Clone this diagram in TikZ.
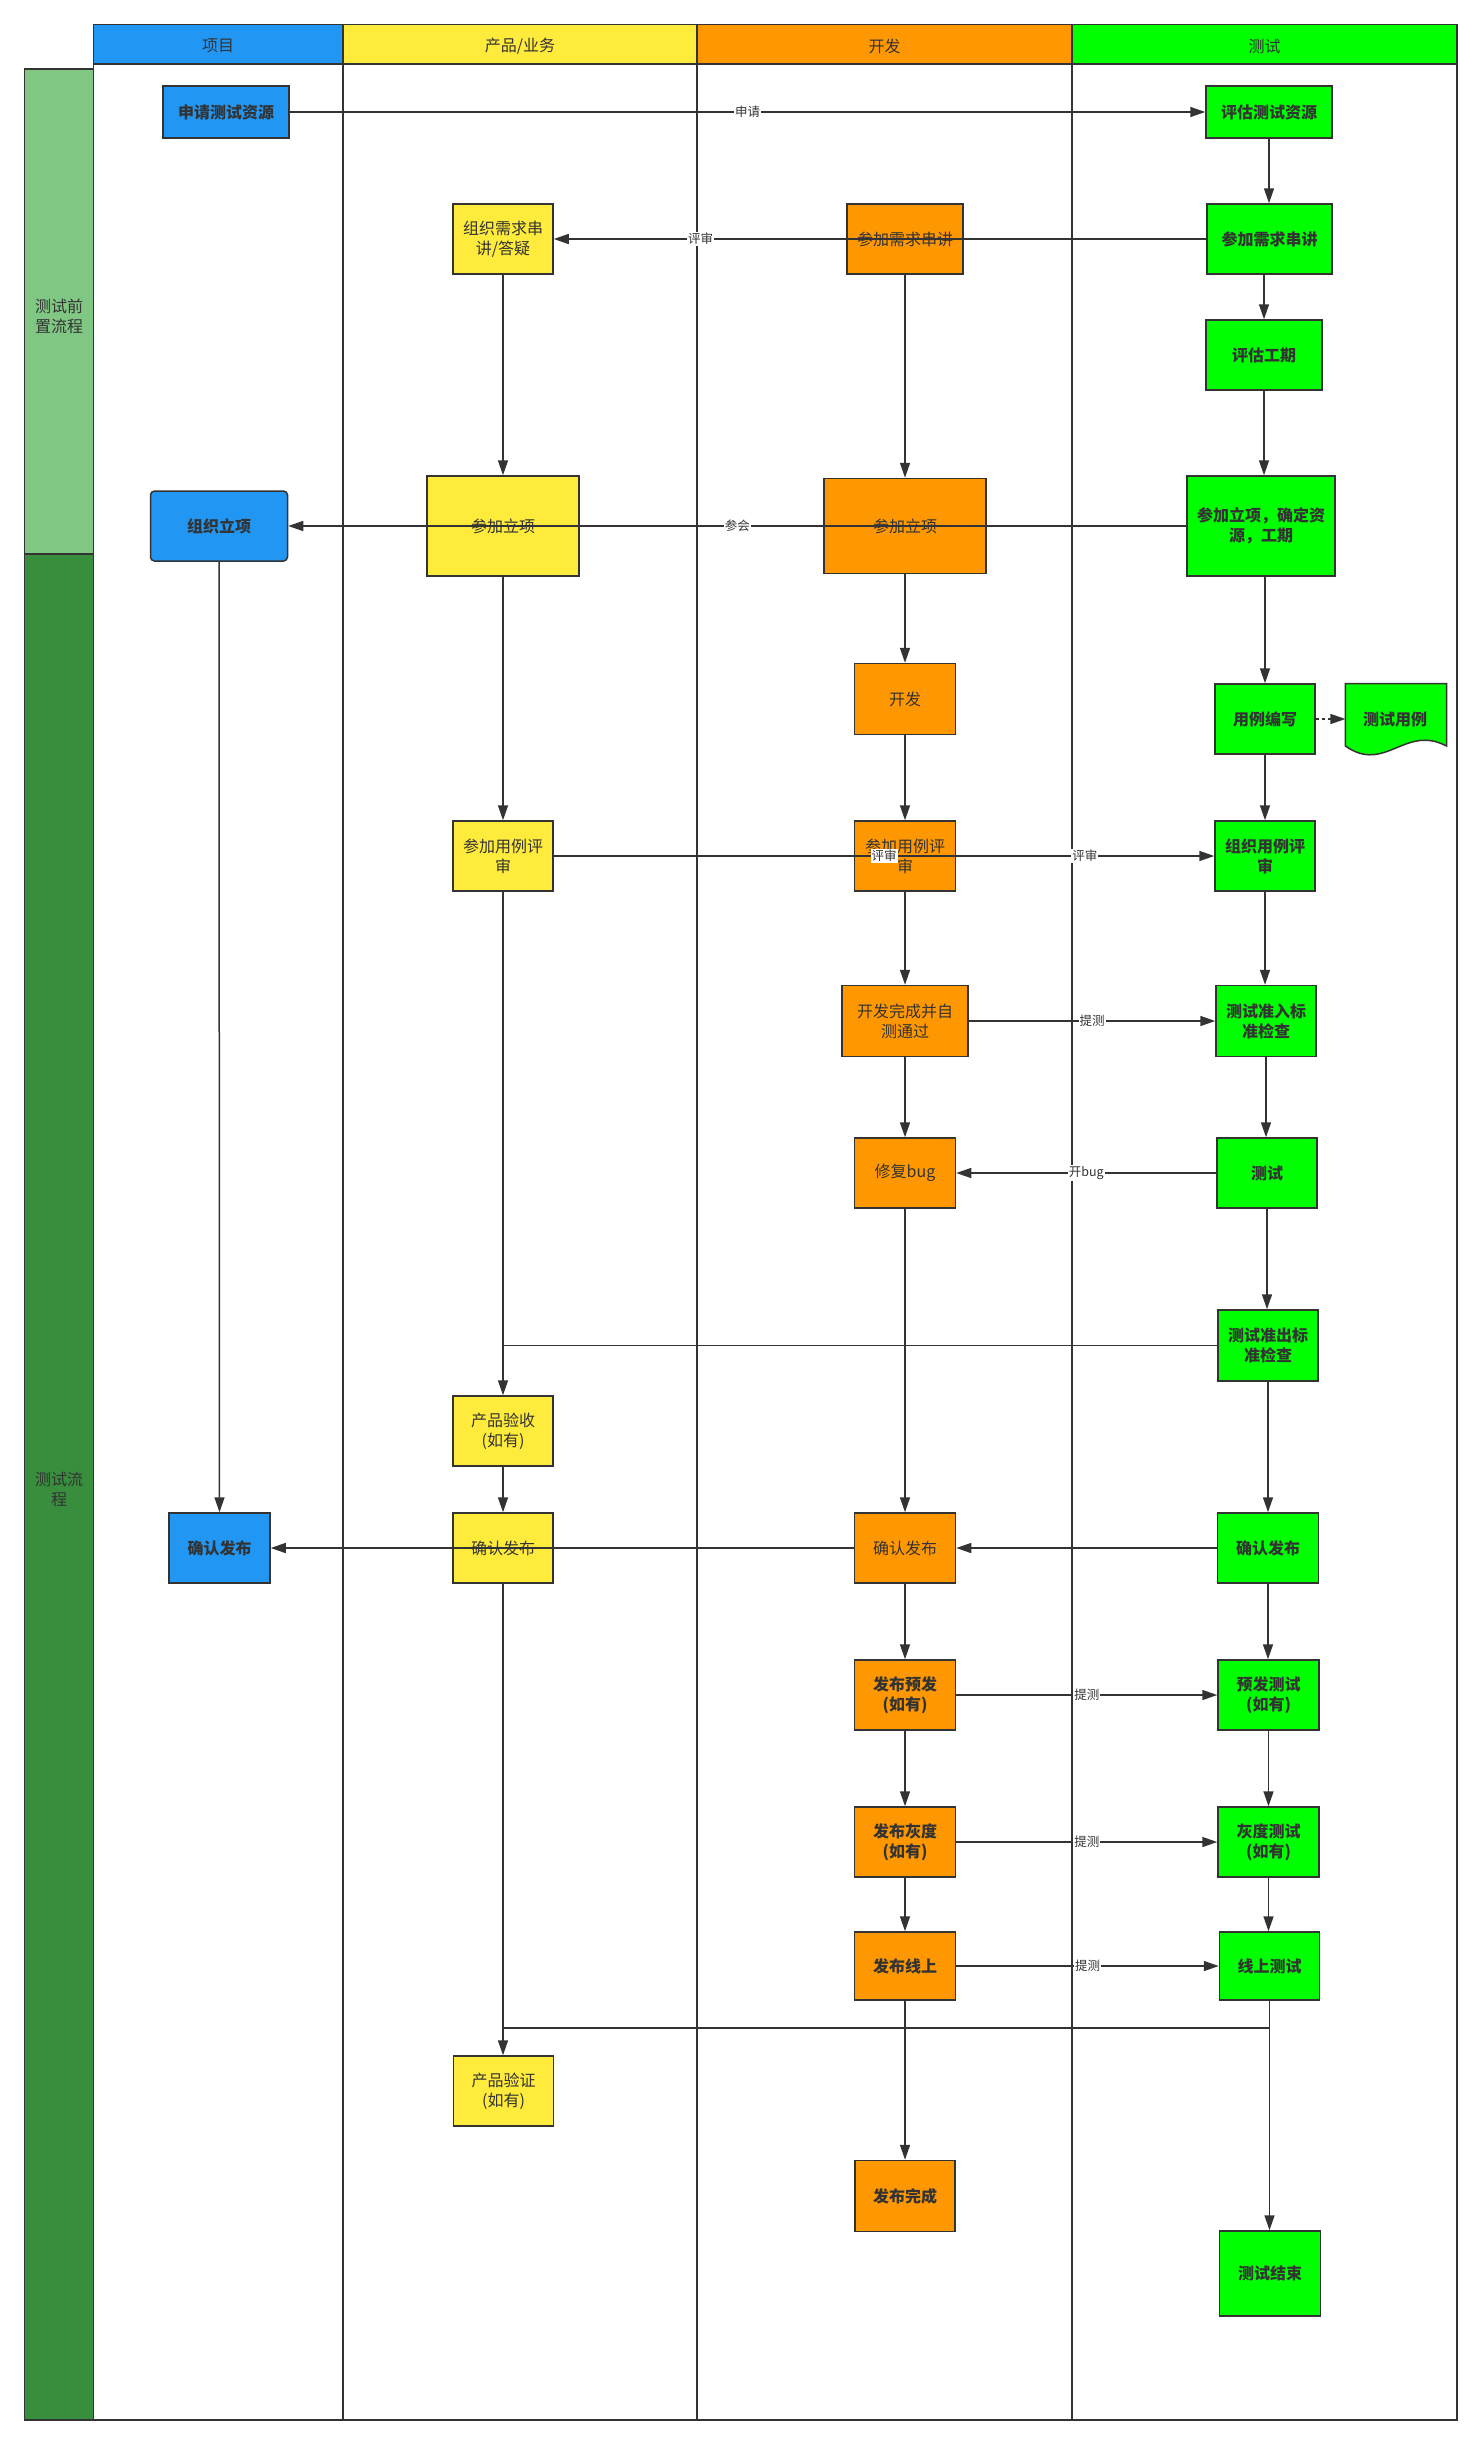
\documentclass[tikz,border=0pt]{standalone}
\usepackage{fontspec}
\setmainfont{Noto Sans CJK SC}
\usetikzlibrary{arrows.meta}
\definecolor{cblue}{HTML}{2196F3}
\definecolor{cyellow}{HTML}{FFEB3B}
\definecolor{corange}{HTML}{FF9800}
\definecolor{cgreen}{HTML}{00FF00}
\definecolor{clgreen}{HTML}{81C784}
\definecolor{cdgreen}{HTML}{388E3C}
\definecolor{linec}{HTML}{333333}
\definecolor{textc}{HTML}{333333}
\begin{document}
\begin{tikzpicture}[x=1pt,y=-1pt,
  lane/.style={draw=linec, line width=1.8pt},
  box/.style={draw=linec, line width=1.5pt, inner sep=0pt, align=center, text=textc,
    minimum width=100pt, minimum height=70pt, font=\fontsize{16}{20}\selectfont},
  bbox/.style={box, font=\fontsize{16}{20}\selectfont\bfseries},
  arr/.style={draw=linec, line width=1.5pt, -{Triangle[length=15pt,width=10pt]}},
  conn/.style={draw=linec, line width=1.5pt},
  lbl/.style={fill=white, inner sep=1pt, text=textc, font=\fontsize{12.5}{14}\selectfont},
  hdr/.style={text=textc, font=\fontsize{16}{20}\selectfont},
  band/.style={text=textc, align=center, font=\fontsize{16}{20}\selectfont}
]
\useasboundingbox (0,0) rectangle (1481,2444);
\fill[white] (0,0) rectangle (1481,2444);

% header
\draw[lane, fill=cblue] (93.4,24.5) rectangle (343,64.3);
\draw[lane, fill=cyellow] (343,24.5) rectangle (697,64.3);
\draw[lane, fill=corange] (697,24.5) rectangle (1072,64.3);
\draw[lane, fill=cgreen] (1072,24.5) rectangle (1457,64.3);
\node[hdr] (h1) at (218,46) {项目};
\node[hdr] (h2) at (520,46) {产品/业务};
\node[hdr] (h3) at (884.5,46) {开发};
\node[hdr] (h4) at (1264.5,46) {测试};

% lanes
\draw[lane] (93.4,64.3) rectangle (1457,2420);
\draw[lane] (343,64.3) -- (343,2420);
\draw[lane] (697,64.3) -- (697,2420);
\draw[lane] (1072,64.3) -- (1072,2420);

% left band
\draw[lane, fill=clgreen] (24.5,69) rectangle (93.4,554);
\draw[lane, fill=cdgreen] (24.5,554) rectangle (93.4,2420);
\node[band] (b1) at (59,316) {测试前\\置流程};
\node[band] (b2) at (59,1489) {测试流\\程};

% nodes
\node[bbox, fill=cblue, minimum width=126pt, minimum height=52pt] (sqzy) at (226,112) {申请测试资源};
\node[bbox, fill=cgreen, minimum width=126pt, minimum height=52pt] (pgzy) at (1269,112) {评估测试资源};
\node[box, fill=cyellow] (zzxq) at (503,239) {组织需求串\\讲/答疑};
\node[box, fill=corange, minimum width=116pt] (cjxqD) at (905,239) {参加需求串讲};
\node[bbox, fill=cgreen, minimum width=125pt] (cjxqT) at (1269.5,239) {参加需求串讲};
\node[bbox, fill=cgreen, minimum width=116pt] (pggq) at (1264,355) {评估工期};
\node[box, fill=cyellow, minimum width=152pt, minimum height=100pt] (cjlxP) at (503,526) {参加立项};
\node[box, fill=corange, minimum width=162pt, minimum height=95pt] (cjlxD) at (905,526) {参加立项};
\node[bbox, fill=cgreen, minimum width=148pt, minimum height=100pt] (cjlxT) at (1261,526) {参加立项，确定资\\源，工期};
\node[bbox, fill=cblue, minimum width=137pt, rounded corners=4pt] (zzlx) at (219,526) {组织立项};
\node[box, fill=corange, minimum width=101pt, minimum height=71pt] (kf) at (905,699) {开发};
\node[bbox, fill=cgreen] (ylbx) at (1265,719) {用例编写};
\draw[draw=linec, line width=1.5pt, fill=cgreen] (1345.4,683.5) -- (1446.5,683.5) -- (1446.5,746)
  .. controls (1405,724) and (1385,774) .. (1345.4,746) -- cycle;
\node[text=textc, font=\fontsize{16}{20}\selectfont\bfseries] (csyl) at (1395,719) {测试用例};
\coordinate (csylw) at (1345.4,719);
\node[box, fill=cyellow] (cjylP) at (503,856) {参加用例评\\审};
\node[box, fill=corange, minimum width=101pt] (cjylD) at (905,856) {参加用例评\\审};
\node[bbox, fill=cgreen] (zzyl) at (1265,856) {组织用例评\\审};
\node[box, fill=corange, minimum width=126pt, minimum height=71pt] (kfwc) at (905,1021) {开发完成并自\\测通过};
\node[bbox, fill=cgreen, minimum height=71pt] (zrjc) at (1266,1021) {测试准入标\\准检查};
\node[box, fill=corange, minimum width=101pt] (xfbug) at (905,1173) {修复bug};
\node[bbox, fill=cgreen] (cs) at (1267,1173) {测试};
\node[bbox, fill=cgreen, minimum height=71pt] (zcjc) at (1268,1345.5) {测试准出标\\准检查};
\node[box, fill=cyellow] (cpys) at (503,1431) {产品验收\\(如有)};
\node[bbox, fill=cblue, minimum width=101pt] (qrB) at (219.5,1548) {确认发布};
\node[box, fill=cyellow] (qrP) at (503,1548) {确认发布};
\node[box, fill=corange, minimum width=101pt] (qrD) at (905,1548) {确认发布};
\node[bbox, fill=cgreen, minimum width=101pt] (qrT) at (1268,1548) {确认发布};
\node[bbox, fill=corange, minimum width=101pt] (fbyf) at (905,1695) {发布预发\\(如有)};
\node[bbox, fill=cgreen, minimum width=101pt] (yfcs) at (1268.5,1695) {预发测试\\(如有)};
\node[bbox, fill=corange, minimum width=101pt] (fbhd) at (905,1842) {发布灰度\\(如有)};
\node[bbox, fill=cgreen, minimum width=101pt] (hdcs) at (1268.5,1842) {灰度测试\\(如有)};
\node[bbox, fill=corange, minimum width=101pt, minimum height=68pt] (fbxs) at (905,1966) {发布线上};
\node[bbox, fill=cgreen, minimum height=68pt] (xscs) at (1269.5,1966) {线上测试};
\node[box, fill=cyellow] (cpyz) at (503.5,2091) {产品验证\\(如有)};
\node[bbox, fill=corange, minimum height=71pt] (fbwc) at (905,2196) {发布完成};
\node[bbox, fill=cgreen, minimum width=101pt, minimum height=85pt] (csjs) at (1270,2273.5) {测试结束};

\coordinate (j0) at (503,1345.5);
\coordinate (j1) at (503.5,2028);
\coordinate (j2) at (1269.5,2028);

% connectors
\draw[arr] (sqzy.east) -- node[lbl, pos=0.5] (l1) {申请} (pgzy.west);
\draw[arr] (pgzy.south) -- (pgzy.south |- cjxqT.north);
\draw[arr] (cjxqT.west) -- node[lbl, pos=0.775] (l2) {评审} (zzxq.east);
\draw[arr] (cjxqT.south -| pggq.north) -- (pggq.north);
\draw[arr] (pggq.south) -- (pggq.south |- cjlxT.north);
\draw[arr] (cjxqD.south) -- (cjlxD.north);
\draw[arr] (zzxq.south) -- (cjlxP.north);
\draw[arr] (cjlxT.west) -- node[lbl, pos=0.5] (l3) {参会} (zzlx.east);
\draw[arr] (cjlxD.south) -- (kf.north);
\draw[arr] (cjlxT.south -| ylbx.north) -- (ylbx.north);
\draw[draw=linec, line width=1.5pt, dash pattern=on 3pt off 3pt, -{Triangle[length=15pt,width=10pt]}] (ylbx.east |- csylw) -- (csylw);
\draw[arr] (kf.south) -- (cjylD.north);
\draw[arr] (cjlxP.south) -- (cjylP.north);
\draw[arr] (cjylP.east) -- node[lbl, pos=0.50] (l4) {评审} node[lbl, pos=0.804] (l5) {评审} (zzyl.west);
\draw[arr] (ylbx.south) -- (zzyl.north);
\draw[arr] (cjylD.south) -- (kfwc.north);
\draw[arr] (zzyl.south) -- (zzyl.south |- zrjc.north);
\draw[arr] (kfwc.east) -- node[lbl, pos=0.5] (l6) {提测} (zrjc.west);
\draw[arr] (kfwc.south) -- (xfbug.north);
\draw[arr] (zrjc.south) -- (zrjc.south |- cs.north);
\draw[arr] (cs.west) -- node[lbl, pos=0.5] (l7) {开bug} (xfbug.east);
\draw[arr] (cs.south) -- (cs.south |- zcjc.north);
\draw[conn] (zcjc.west) -- (j0);
\draw[arr] (cjylP.south) -- (cpys.north);
\draw[arr] (zzlx.south) -- (qrB.north);
\draw[arr] (xfbug.south) -- (qrD.north);
\draw[arr] (zcjc.south) -- (zcjc.south |- qrT.north);
\draw[arr] (qrT.west) -- (qrD.east);
\draw[arr] (qrD.west) -- (qrB.east);
\draw[arr] (cpys.south) -- (qrP.north);
\draw[arr] (qrD.south) -- (fbyf.north);
\draw[arr] (qrT.south) -- (qrT.south |- yfcs.north);
\draw[arr] (fbyf.east) -- node[lbl, pos=0.5] (l8) {提测} (yfcs.west);
\draw[arr] (fbyf.south) -- (fbhd.north);
\draw[arr] (yfcs.south) -- (hdcs.north);
\draw[arr] (fbhd.east) -- node[lbl, pos=0.5] (l9) {提测} (hdcs.west);
\draw[arr] (fbhd.south) -- (fbxs.north);
\draw[arr] (hdcs.south) -- (hdcs.south |- xscs.north);
\draw[arr] (fbxs.east) -- node[lbl, pos=0.5] (l10) {提测} (xscs.west);
\draw[conn] (xscs.south) -- (j2) -- (j1);
\draw[arr] (qrP.south) -- (qrP.south |- cpyz.north);
\draw[arr] (fbxs.south) -- (fbwc.north);
\draw[arr] (xscs.south) -- (xscs.south |- csjs.north);
\end{tikzpicture}
\end{document}
